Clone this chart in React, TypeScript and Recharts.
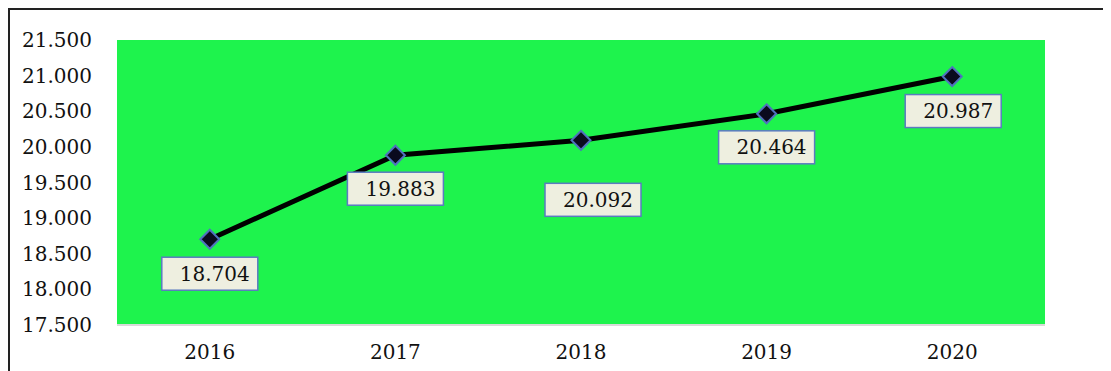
import * as React from 'react';
import {
  LineChart,
  Line,
  XAxis,
  YAxis,
  ReferenceArea,
  LabelList
} from 'recharts';

const years = ['2016', '2017', '2018', '2019', '2020'];
const amounts = [18.704, 19.883, 20.092, 20.464, 20.987];
const yTicks = [17.5, 18, 18.5, 19, 19.5, 20, 20.5, 21, 21.5];

const data = years.map((year, i) => ({ year, value: amounts[i] }));

// where each value box sits relative to its point
const labelNudge = [
  { dx: 0, dy: 18 },
  { dx: 0, dy: 17 },
  { dx: 12, dy: 43 },
  { dx: 0, dy: 17 },
  { dx: 1, dy: 18 }
];

const FONT = '"DejaVu Serif", serif';
const fmt = (v: number) => v.toFixed(3);

const Diamond = (props: any) => {
  const { cx, cy } = props;
  if (cx == null || cy == null) return null;
  const r = 9.5;
  return (
    <polygon
      points={`${cx},${cy - r} ${cx + r},${cy} ${cx},${cy + r} ${cx - r},${cy}`}
      fill="#0a0a1e"
      stroke="#4f72bd"
      strokeWidth={2}
    />
  );
};

const ValueBox = (props: any) => {
  const { x, y, value, index } = props;
  const n = labelNudge[index] || { dx: 0, dy: 18 };
  const w = 96;
  const h = 33;
  const left = x + n.dx - w / 2;
  const top = y + n.dy;
  return (
    <g>
      <rect
        x={left}
        y={top}
        width={w}
        height={h}
        fill="#eeefe0"
        stroke="#5b7bc0"
        strokeWidth={1.5}
      />
      <text
        x={left + w / 2 + 5}
        y={top + h / 2}
        textAnchor="middle"
        dominantBaseline="central"
        fontFamily={FONT}
        fontSize={20}
        fill="#111"
      >
        {fmt(value)}
      </text>
    </g>
  );
};

export default function App() {
  return (
    <div
      style={{
        borderTop: '2px solid #222',
        borderLeft: '2px solid #222',
        width: 1101,
        height: 361
      }}
    >
      <LineChart
        width={1101}
        height={361}
        data={data}
        margin={{ top: 30, right: 66, left: 7, bottom: 6 }}
      >
        <XAxis
          dataKey="year"
          scale="band"
          axisLine={{ stroke: '#d9d9d9', strokeWidth: 2 }}
          tickLine={false}
          tickSize={0}
          tickMargin={20}
          height={40}
          tick={{ fontFamily: FONT, fontSize: 20, fill: '#111' }}
        />
        <YAxis
          domain={[17.5, 21.5]}
          ticks={yTicks}
          axisLine={false}
          tickLine={false}
          tickSize={0}
          tickMargin={25}
          width={100}
          tickFormatter={fmt}
          tick={{ fontFamily: FONT, fontSize: 20, fill: '#111' }}
        />
        <ReferenceArea
          y1={17.5}
          y2={21.5}
          fill="#1ef34d"
          fillOpacity={1}
          stroke="none"
        />
        <Line
          type="linear"
          dataKey="value"
          stroke="#000"
          strokeWidth={5}
          dot={<Diamond />}
          activeDot={false}
          isAnimationActive={false}
        >
          <LabelList dataKey="value" content={<ValueBox />} />
        </Line>
      </LineChart>
    </div>
  );
}
